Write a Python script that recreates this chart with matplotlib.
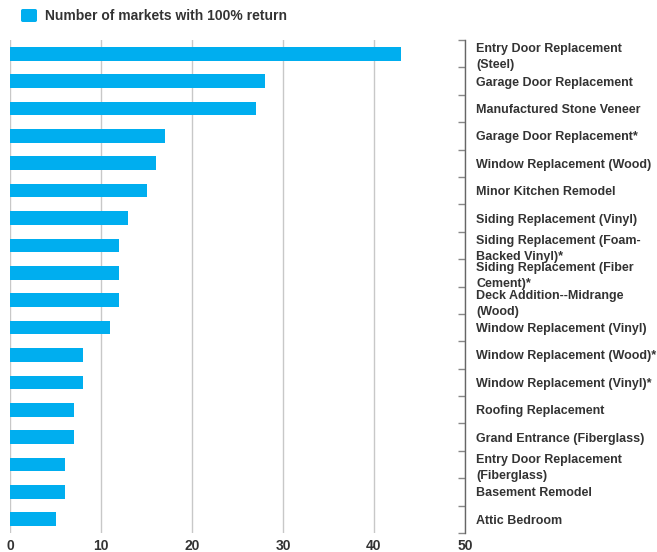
import matplotlib
matplotlib.use("Agg")
import matplotlib.pyplot as plt
from matplotlib.patches import FancyBboxPatch
import numpy as np

plt.rcParams['font.family'] = ['Liberation Sans', 'DejaVu Sans']

categories = [
    "Entry Door Replacement\n(Steel)",
    "Garage Door Replacement",
    "Manufactured Stone Veneer",
    "Garage Door Replacement*",
    "Window Replacement (Wood)",
    "Minor Kitchen Remodel",
    "Siding Replacement (Vinyl)",
    "Siding Replacement (Foam-\nBacked Vinyl)*",
    "Siding Replacement (Fiber\nCement)*",
    "Deck Addition--Midrange\n(Wood)",
    "Window Replacement (Vinyl)",
    "Window Replacement (Wood)*",
    "Window Replacement (Vinyl)*",
    "Roofing Replacement",
    "Grand Entrance (Fiberglass)",
    "Entry Door Replacement\n(Fiberglass)",
    "Basement Remodel",
    "Attic Bedroom",
]
values = [43, 28, 27, 17, 16, 15, 13, 12, 12, 12, 11, 8, 8, 7, 7, 6, 6, 5]
series_name = "Number of markets with 100% return"
xticks = [0, 10, 20, 30, 40, 50]

bar_color = "#00AEEF"
text_color = "#333333"

W, H = 657, 552
fig = plt.figure(figsize=(W / 100, H / 100), dpi=100)
ax = fig.add_axes([10 / W, 1 - 533 / H, (465 - 10) / W, (533 - 40) / H])

y = np.arange(len(categories))
ax.barh(y, values, height=0.5, color=bar_color, zorder=3)

ax.set_xlim(0, 50)
ax.set_ylim(len(categories) - 0.5, -0.5)
ax.set_xticks(xticks)
ax.set_xticklabels([str(t) for t in xticks], fontsize=10, fontweight='bold', color=text_color)
ax.tick_params(axis='x', length=0, pad=4)
ax.grid(axis='x', color='#c8c8c8', linewidth=1, zorder=0)

ax.yaxis.tick_right()
ax.set_yticks(y)
ax.set_yticklabels(categories, fontsize=9, fontweight='bold', color=text_color,
                   ha='left', linespacing=1.45)
ax.tick_params(axis='y', which='major', length=0, pad=8)
ax.set_yticks(np.arange(len(categories) + 1) - 0.5, minor=True)
ax.tick_params(axis='y', which='minor', direction='in', length=5, color='#888888', width=1)

for s in ['top', 'bottom', 'left']:
    ax.spines[s].set_visible(False)
ax.spines['right'].set_color('#666666')
ax.spines['right'].set_linewidth(1)

# legend
fig.patches.append(FancyBboxPatch((21 / W, 1 - 22 / H), 16 / W, 13 / H,
                                  boxstyle="round,pad=0,rounding_size=0.003",
                                  transform=fig.transFigure, facecolor=bar_color,
                                  edgecolor='none'))
fig.text(45 / W, 1 - 15.5 / H, series_name, fontsize=10, fontweight='bold',
         color=text_color, va='center', ha='left')

fig.savefig("out.png", dpi=100)
